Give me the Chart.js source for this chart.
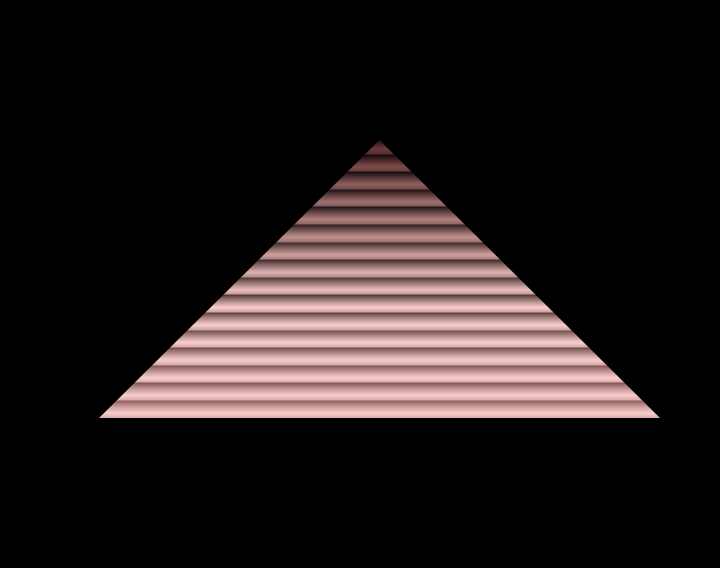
<!DOCTYPE html>
<html>
<head>
<meta charset="utf-8">
<script src="https://cdn.jsdelivr.net/npm/chart.js@4/dist/chart.umd.min.js"></script>
<style>
  html, body { margin: 0; padding: 0; background: #000; }
  #wrap { width: 720px; height: 568px; }
</style>
</head>
<body>
<div id="wrap"><canvas id="chart"></canvas></div>
<script>
// pyramid: three points, base corners and apex
const labels = ['left', 'apex', 'right'];
const heights = [0, 100, 0];

const bandCount = 15.8;

function mix(a, b, k) {
    return a.map((v, i) => Math.round(v + (b[i] - v) * k));
}

// shape of brightness inside one stripe: dark top, light low, a bit darker at the end
function profile(t) {
    if (t < 0.72) return Math.pow(t / 0.72, 0.8);
    return 1 - (t - 0.72) / 0.28 * 0.3;
}

function stripeFill(context) {
    const chart = context.chart;
    const area = chart.chartArea;
    if (!area) return '#c08080';
    const h = area.bottom - area.top;
    const grad = chart.ctx.createLinearGradient(0, area.top, 0, area.bottom);
    const period = h / bandCount;
    for (let i = 0; i <= h; i++) {
        const v = i / h;
        const t = 1 - (((h - i) / period) % 1);
        const light = mix([100, 45, 45], [250, 206, 206], Math.min(1, Math.pow(v / 0.6, 0.9)));
        const dark = mix([0, 0, 0], [145, 92, 92], Math.min(1, Math.pow(v, 1.2)));
        const c = mix(dark, light, profile(t));
        grad.addColorStop(v, `rgb(${c[0]},${c[1]},${c[2]})`);
    }
    return grad;
}

const ctx = document.getElementById('chart').getContext('2d');
new Chart(ctx, {
    type: 'line',
    data: {
        labels: labels,
        datasets: [{
            data: heights,
            fill: 'origin',
            backgroundColor: stripeFill,
            borderWidth: 0,
            pointRadius: 0,
            tension: 0
        }]
    },
    options: {
        responsive: true,
        maintainAspectRatio: false,
        animation: false,
        layout: { padding: { left: 99, right: 60, top: 140, bottom: 150 } },
        plugins: { legend: { display: false }, tooltip: { enabled: false } },
        scales: {
            x: { display: false, offset: false },
            y: { display: false, min: 0, max: 100 }
        }
    }
});
</script>
</body>
</html>
